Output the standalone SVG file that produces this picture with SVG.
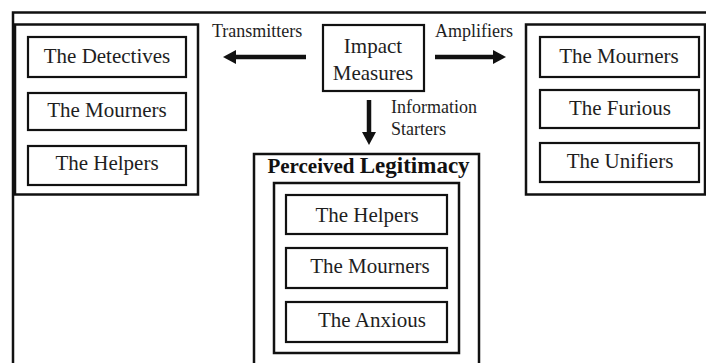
<svg xmlns="http://www.w3.org/2000/svg" width="706" height="363" viewBox="0 0 706 363">
<style>
.frame{fill:none;stroke:#111;stroke-width:2.5}
.box{fill:#fff;stroke:#111;stroke-width:2.2}
.t{font-family:"Liberation Serif","Times New Roman",serif;font-size:21px;fill:#1e1e1e;text-anchor:middle}
.lbl{font-family:"Liberation Serif","Times New Roman",serif;font-size:18px;fill:#1e1e1e}
.ttl{font-family:"Liberation Serif","Times New Roman",serif;font-weight:bold;fill:#111;text-anchor:middle}
.arr{stroke:#111;stroke-width:4.5;fill:none}
</style>
<defs>
<marker id="head" viewBox="0 -7 13 14" markerWidth="13" markerHeight="14" refX="0" refY="0" orient="auto" markerUnits="userSpaceOnUse">
<path d="M0,-7 L13,0 L0,7 z" fill="#111"/>
</marker>
</defs>
<rect width="706" height="363" fill="#fff"/>
<g id="outer-frame"><rect class="frame" x="13" y="12.5" width="720" height="380"/></g>
<g id="transmitters-panel">
<rect class="frame" x="15" y="24.5" width="183" height="170"/>
<g id="t-detectives"><rect class="box" x="28" y="37" width="158" height="40"/><text class="t" x="107" y="63">The Detectives</text></g>
<g id="t-mourners"><rect class="box" x="28" y="93" width="158" height="37"/><text class="t" x="107" y="117">The Mourners</text></g>
<g id="t-helpers"><rect class="box" x="28" y="146" width="158" height="39"/><text class="t" x="107" y="170">The Helpers</text></g>
</g>
<g id="impact-measures">
<rect class="box" x="323" y="25" width="101" height="66"/>
<text class="t" x="373" y="53">Impact</text>
<text class="t" x="373" y="80">Measures</text>
</g>
<g id="amplifiers-panel">
<rect class="frame" x="526" y="24.5" width="179" height="170"/>
<g id="a-mourners"><rect class="box" x="540" y="37" width="159" height="40"/><text class="t" x="619" y="63">The Mourners</text></g>
<g id="a-furious"><rect class="box" x="540" y="90" width="159" height="38"/><text class="t" x="620" y="115">The Furious</text></g>
<g id="a-unifiers"><rect class="box" x="540" y="143" width="159" height="39"/><text class="t" x="620" y="168">The Unifiers</text></g>
</g>
<g id="perceived-legitimacy">
<rect class="frame" x="254" y="154" width="225" height="230"/>
<text class="ttl" x="368.5" y="173"><tspan font-size="21">Perceived </tspan><tspan font-size="23">Legitimacy</tspan></text>
<rect class="frame" x="274" y="183" width="185" height="170"/>
<g id="p-helpers"><rect class="box" x="286" y="195" width="161" height="39"/><text class="t" x="367" y="222">The Helpers</text></g>
<g id="p-mourners"><rect class="box" x="286" y="248" width="161" height="40"/><text class="t" x="370" y="273">The Mourners</text></g>
<g id="p-anxious"><rect class="box" x="286" y="302" width="161" height="40"/><text class="t" x="372" y="327">The Anxious</text></g>
</g>
<g id="connectors">
<line class="arr" x1="306" y1="57" x2="236" y2="57" marker-end="url(#head)"/>
<line class="arr" x1="435" y1="57" x2="493" y2="57" marker-end="url(#head)"/>
<line class="arr" x1="369" y1="100" x2="369" y2="132" marker-end="url(#head)"/>
<text class="lbl" x="212" y="37">Transmitters</text>
<text class="lbl" x="435" y="37">Amplifiers</text>
<text class="lbl" x="391" y="113">Information</text>
<text class="lbl" x="391" y="135">Starters</text>
</g>
</svg>
